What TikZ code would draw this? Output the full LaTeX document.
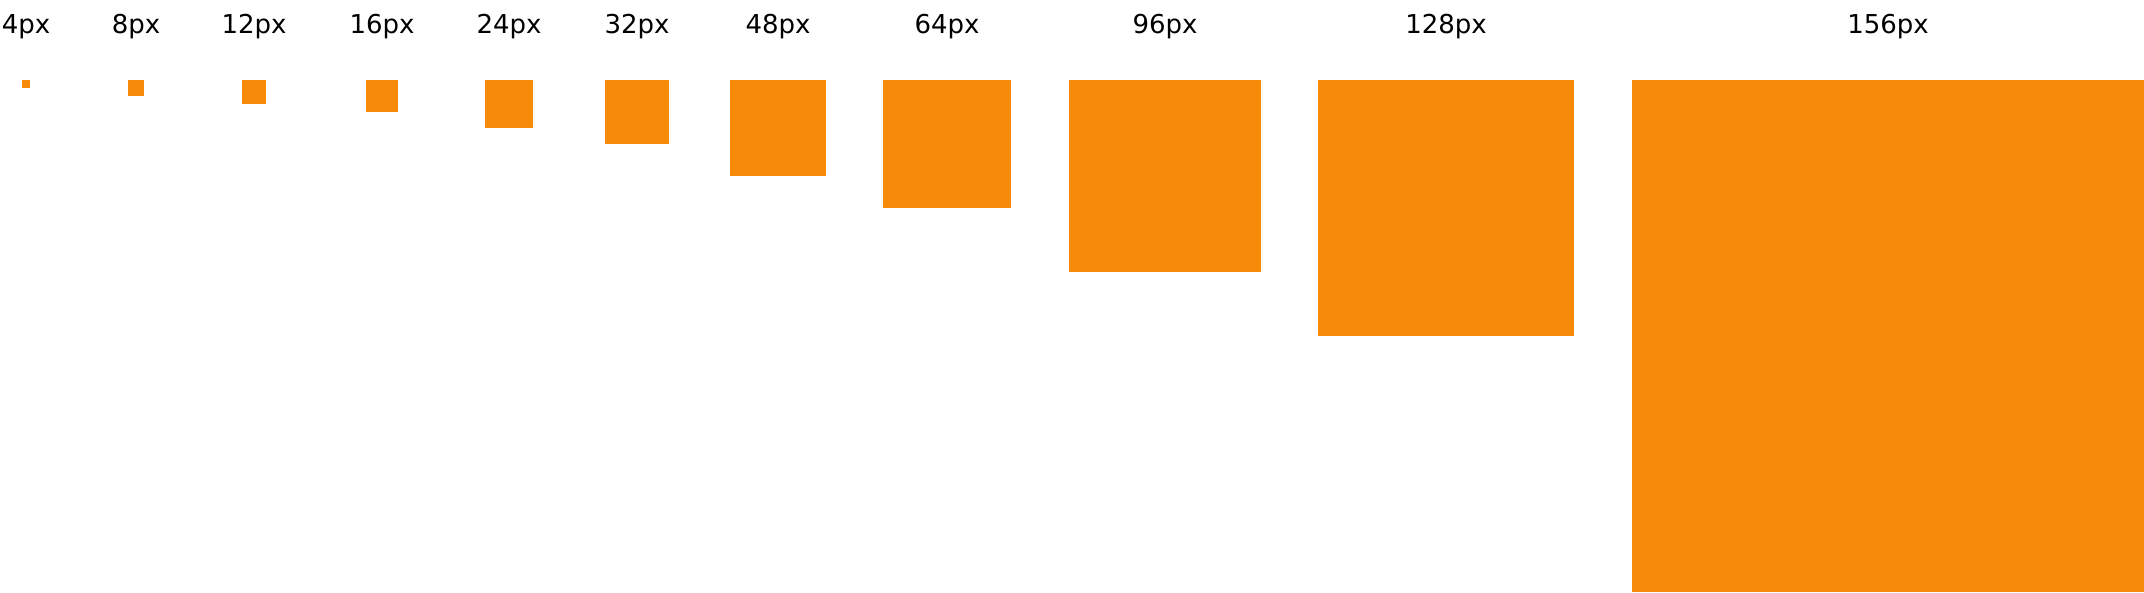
\documentclass[tikz,border=0pt]{standalone}
\usepackage{fontspec}
\setmainfont{DejaVu Sans}
\usepackage{tikz}
\usetikzlibrary{positioning}

\definecolor{swatch}{HTML}{F78B09}

\begin{document}
\begin{tikzpicture}[x=1pt, y=-1pt,
    sizelabel/.style={anchor=base, inner sep=0pt, font=\fontsize{26}{30}\selectfont}]
  \useasboundingbox (0,0) rectangle (2144,592);
  % Size swatches: label / left edge / side length
  \foreach \lbl/\xl/\side in {4/22/8, 8/128/16, 12/242/24, 16/366/32, 24/485/48,
      32/605/64, 48/730/96, 64/883/128, 96/1069/192, 128/1318/256, 156/1632/512}{
    \node[sizelabel] (lbl\lbl) at (\xl+\side/2,33) {\lbl px};
    \fill[swatch] (\xl,80) rectangle ++(\side,\side);
  }
\end{tikzpicture}
\end{document}
